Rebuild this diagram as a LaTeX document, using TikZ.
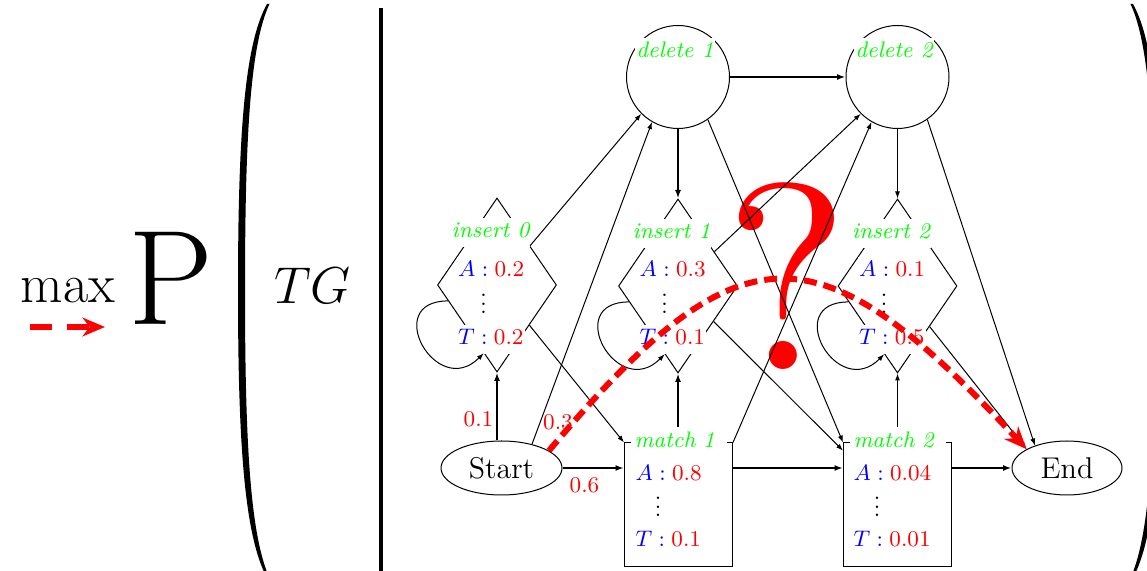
\documentclass[tikz,border=0pt]{standalone}
\usepackage{fontspec}
\usetikzlibrary{shapes.geometric,arrows.meta}
\newfontfamily\qfont{lmroman10-regular.otf}
\newcommand\pxl{0.4pt}
\newcommand\emis[2]{$\textcolor{blue}{#1}\mathrel{\textcolor{blue}{:}}\textcolor{red}{#2}$}
\newcommand\vdotsx{\vbox{\baselineskip3.3pt\lineskiplimit-5pt\hbox{.}\hbox{.}\hbox{.}}}
\begin{document}
\begin{tikzpicture}[x=0.4pt,y=-0.4pt,
  ar/.style={-{Latex[length=2.8pt,width=2pt]}},
  thk/.style={thick,-{Latex[length=3.4pt,width=2.4pt]}},
  delnode/.style={circle,draw,minimum size=103*\pxl,inner sep=0pt},
  insnode/.style={diamond,draw,minimum width=119*\pxl,minimum height=174*\pxl,inner sep=0pt},
  matnode/.style={rectangle,draw,minimum width=108*\pxl,minimum height=124*\pxl,inner sep=0pt},
  term/.style={ellipse,draw,inner sep=0pt,font=\large},
  row/.style={fill=white,inner sep=0.4pt,font=\small,anchor=base west},
  ttl/.style={fill=white,inner sep=0.4pt,text=green,font=\small\itshape,anchor=base},
  mttl/.style={fill=white,inner ysep=0.4pt,text=green,font=\small\itshape,anchor=west,text width=88*\pxl,inner xsep=4*\pxl,align=left},
  dots/.style={font=\small,inner sep=0pt},
  prob/.style={text=red,font=\small},
  redarrow/.style={red,line width=2.4pt,-{Stealth[length=9pt,width=7.5pt]}},
]
\useasboundingbox (0,0) rectangle (1147,571);
% big question mark (behind)
\node[text=red,inner sep=0pt,anchor=base] (q) at (787,370) {\fontsize{106}{110}\qfont ?};
% formula part
\node[inner sep=0pt,anchor=base] (max) at (68,303) {\fontsize{22}{26}\selectfont max};
\coordinate (ma1) at (30,327);
\coordinate (ma2) at (105,327);
\draw[redarrow,dash pattern=on 8.8pt off 6pt] (ma1) -- (ma2);
\node[inner sep=0pt,anchor=base] (P) at (171,325) {\fontsize{54}{60}\selectfont P};
\node[inner sep=0pt,anchor=base] (TG) at (312.5,304) {\fontsize{22.5}{27}\selectfont $TG$};
% parentheses and bar
\fill (267,4) .. controls (244,45) and (238,140) .. (238,290) .. controls (238,440) and (244,535) .. (267,578)
  -- (269.5,578) .. controls (250,535) and (245,440) .. (245,290) .. controls (245,140) and (250,45) .. (269.5,4) -- cycle;
\fill (1133,4) .. controls (1156,45) and (1162,140) .. (1162,290) .. controls (1162,440) and (1156,535) .. (1133,578)
  -- (1130.5,578) .. controls (1150,535) and (1155,440) .. (1155,290) .. controls (1155,140) and (1150,45) .. (1130.5,4) -- cycle;
\draw[line width=1.8pt] (381,8) -- (381,580);
% nodes
\node[delnode] (del1) at (678,77) {};
\node[delnode] (del2) at (897.5,77) {};
\node[insnode] (ins0) at (497,285) {};
\node[insnode] (ins1) at (678,286) {};
\node[insnode] (ins2) at (897.5,286) {};
\node[term,minimum width=121*\pxl,minimum height=54*\pxl] (start) at (501.5,468) {Start};
\node[term,minimum width=110*\pxl,minimum height=54*\pxl] (end) at (1067,468) {End};
\node[matnode] (m1) at (678.5,505) {};
\node[matnode] (m2) at (897.5,505) {};
% titles
\node[ttl] (d1l) at (675,58) {\strut delete 1};
\node[ttl] (d2l) at (894,58) {\strut delete 2};
\node[ttl] (i0l) at (490.5,238) {\strut insert 0};
\node[ttl] (i1l) at (671.5,239) {\strut insert 1};
\node[ttl] (i2l) at (891,239) {\strut insert 2};
\node[mttl] (m1l) at ([xshift=6*\pxl]m1.north west) {\strut match 1};
\node[mttl] (m2l) at ([xshift=6*\pxl]m2.north west) {\strut match 2};
% emission rows
\node[row] (i0a) at (456.5,277) {\strut\emis{A}{0.2}};
\node[row] (i0t) at (456.5,345) {\strut\emis{T}{0.2}};
\node[row] (i1a) at (638,277) {\strut\emis{A}{0.3}};
\node[row] (i1t) at (638,345) {\strut\emis{T}{0.1}};
\node[row] (i2a) at (857.5,277) {\strut\emis{A}{0.1}};
\node[row] (i2t) at (857.5,345) {\strut\emis{T}{0.5}};
\node[row] (m1a) at (634,481) {\strut\emis{A}{0.8}};
\node[row] (m1t) at (634,547) {\strut\emis{T}{0.1}};
\node[row] (m2a) at (852,481) {\strut\emis{A}{0.04}};
\node[row] (m2t) at (852,547) {\strut\emis{T}{0.01}};
\node[dots] (i0d) at (483.5,304) {\vdotsx};
\node[dots] (i1d) at (664.5,304) {\vdotsx};
\node[dots] (i2d) at (884,304) {\vdotsx};
\node[dots] (m1d) at (658,507) {\vdotsx};
\node[dots] (m2d) at (877,507) {\vdotsx};
% edges
\draw[thk] (ins0.south |- start.north) -- (ins0.south);
\draw[ar] (start.38) -- (del1.240);
\draw[thk] (start.east) -- (start.east -| m1.west);
\draw[ar] (ins0.198) to[out=180,in=225,looseness=2.7] (ins0.259);
\draw[ar] (ins0) -- (del1.south west);
\draw[ar] (ins0) -- (m1.north west);
\draw[thk] (del1) -- (del2);
\draw[thk] (del1) -- (ins1);
\draw[ar] (del1.-55) -- (m2.north west);
\draw[ar] (ins1) -- (del2.south west);
\draw[ar] (ins1) -- (m2);
\draw[ar] (ins1.198) to[out=180,in=225,looseness=2.7] (ins1.259);
\draw[thk] (ins1.south |- m1l.north) -- (ins1.south);
\draw[ar] (m1.north east) -- (del2.240);
\draw[thk] (m1.east |- start.east) -- (m2.west |- start.east);
\draw[ar] (del2) -- (ins2);
\draw[ar] (del2.-55) -- (end.145);
\draw[ar] (ins2) -- (end.155);
\draw[ar] (ins2.198) to[out=180,in=225,looseness=2.7] (ins2.259);
\draw[ar] (ins2.south |- m2l.north) -- (ins2.south);
\draw[thk] (m2.east |- end.west) -- (end.west);
% probabilities
\node[prob] (p1) at (478.5,419.5) {0.1};
\node[prob] (p3) at (558,422) {0.3};
\node[prob] (p6) at (584.5,485) {0.6};
% red path
\draw[redarrow,dash pattern=on 5.2pt off 2.8pt] (start.20) to[out=50,in=133,looseness=1.62] (end.155);
\end{tikzpicture}
\end{document}
